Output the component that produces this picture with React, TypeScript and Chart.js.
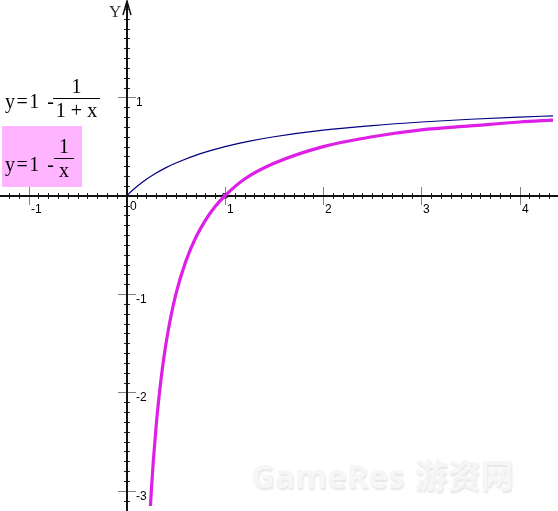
import { useEffect, useRef } from "react"
import { Chart, registerables, type Plugin } from "chart.js"

// Register Chart.js components
Chart.register(...registerables)

// y = 1 - 1/(1+x)
const navyX = [0, 0.05, 0.1, 0.2, 0.3, 0.4, 0.5, 0.75, 1, 1.25, 1.5, 2, 2.5, 3, 3.5, 4, 4.34]
const navyY = [0, 0.048, 0.091, 0.167, 0.231, 0.286, 0.333, 0.429, 0.5, 0.556, 0.6, 0.667, 0.714, 0.75, 0.778, 0.8, 0.813]

// y = 1 - 1/x
const magentaX = [0.24, 0.25, 0.27, 0.3, 0.33, 0.37, 0.42, 0.5, 0.6, 0.7, 0.8, 0.9, 1, 1.2, 1.5, 2, 2.5, 3, 3.5, 4, 4.34]
const magentaY = [-3.17, -3.0, -2.7, -2.33, -2.03, -1.7, -1.38, -1.0, -0.67, -0.43, -0.25, -0.11, 0, 0.17, 0.33, 0.5, 0.6, 0.67, 0.71, 0.75, 0.77]

// crossing point marked with a small square
const markX = [1]
const markY = [0]

// tick labels
const xTicks = [-1, 0, 1, 2, 3, 4]
const yTicks = [1, -1, -2, -3]

const X_MIN = -1.24
const X_MAX = 4.34
const Y_MIN = -3.155
const Y_MAX = 1.94

const crossAxes: Plugin<"scatter"> = {
  id: "crossAxes",
  beforeDatasetsDraw(chart) {
    const { ctx } = chart
    const xs = chart.scales.x
    const ys = chart.scales.y
    const x0 = Math.round(xs.getPixelForValue(0))
    const y0 = Math.round(ys.getPixelForValue(0))
    const line = (a: number, b: number, c: number, d: number) => {
      ctx.beginPath()
      ctx.moveTo(a, b)
      ctx.lineTo(c, d)
      ctx.stroke()
    }
    ctx.save()

    // minor ticks every 0.1
    ctx.strokeStyle = "#222"
    ctx.lineWidth = 1
    for (let i = Math.ceil(X_MIN * 10); i <= X_MAX * 10; i++) {
      if (i % 10 === 0) continue
      const px = Math.round(xs.getPixelForValue(i / 10)) + 0.5
      line(px, y0 - 3, px, y0 + 3)
    }
    for (let i = Math.ceil(Y_MIN * 10); i <= Y_MAX * 10; i++) {
      if (i % 10 === 0) continue
      const py = Math.round(ys.getPixelForValue(i / 10)) + 0.5
      line(x0 - 3, py, x0 + 3, py)
    }

    // major ticks
    ctx.strokeStyle = "#808080"
    xTicks.forEach((v) => {
      if (v === 0) return
      const px = Math.round(xs.getPixelForValue(v)) + 0.5
      line(px, y0 - 9, px, y0 + 9)
    })
    yTicks.forEach((v) => {
      const py = Math.round(ys.getPixelForValue(v)) + 0.5
      line(x0 - 9, py, x0 + 9, py)
    })

    // axes
    ctx.strokeStyle = "#111"
    ctx.lineWidth = 2
    line(0, y0, chart.width, y0)
    line(x0, 2, x0, chart.height)

    // arrow on the y axis
    ctx.lineWidth = 1.5
    ctx.beginPath()
    ctx.moveTo(x0 - 4, 15)
    ctx.lineTo(x0, 1)
    ctx.lineTo(x0 + 4, 15)
    ctx.stroke()

    // tick labels
    ctx.fillStyle = "#000"
    ctx.font = "12px 'Liberation Sans', Arial, sans-serif"
    ctx.textAlign = "left"
    ctx.textBaseline = "middle"
    xTicks.forEach((v) => {
      const px = Math.round(xs.getPixelForValue(v))
      if (v === 0) ctx.fillText("0", px + 3, y0 + 11)
      else ctx.fillText(String(v), px + 2, y0 + 14)
    })
    yTicks.forEach((v) => {
      const py = Math.round(ys.getPixelForValue(v))
      ctx.fillText(String(v), x0 + 9, py + 6)
    })
    ctx.restore()
  },
}

function Fraction({ left, top, width, num, den }: { left: number; top: number; width: number; num: string; den: string }) {
  return (
    <div style={{ position: "absolute", left, top, width, textAlign: "center", lineHeight: "20px", whiteSpace: "pre" }}>
      <div>{num}</div>
      <div style={{ borderTop: "1px solid #000", marginTop: 2, paddingTop: 1 }}>{den}</div>
    </div>
  )
}

export default function App() {
  const chartRef = useRef<HTMLCanvasElement>(null)
  const chartInstance = useRef<Chart | null>(null)

  useEffect(() => {
    if (!chartRef.current) return
    if (chartInstance.current) chartInstance.current.destroy()
    const ctx = chartRef.current.getContext("2d")
    if (!ctx) return

    chartInstance.current = new Chart(ctx, {
      type: "scatter",
      data: {
        datasets: [
          {
            label: "y=1-1/(1+x)",
            data: navyX.map((x, i) => ({ x, y: navyY[i] })),
            showLine: true,
            borderColor: "#000080",
            borderWidth: 1.2,
            pointRadius: 0,
            cubicInterpolationMode: "monotone",
          },
          {
            label: "y=1-1/x",
            data: magentaX.map((x, i) => ({ x, y: magentaY[i] })),
            showLine: true,
            borderColor: "#de1fe6",
            borderWidth: 3.2,
            pointRadius: 0,
            cubicInterpolationMode: "monotone",
          },
          {
            label: "mark",
            data: markX.map((x, i) => ({ x, y: markY[i] })),
            pointStyle: "rect",
            pointRadius: 3,
            backgroundColor: "rgba(0,0,0,0)",
            borderColor: "#000",
            borderWidth: 1,
          },
        ],
      },
      options: {
        animation: false,
        responsive: true,
        maintainAspectRatio: false,
        layout: { padding: 0 },
        plugins: {
          legend: { display: false },
          tooltip: { enabled: false },
        },
        scales: {
          x: { type: "linear", min: X_MIN, max: X_MAX, display: false },
          y: { type: "linear", min: Y_MIN, max: Y_MAX, display: false },
        },
      },
      plugins: [crossAxes],
    })

    return () => {
      if (chartInstance.current) {
        chartInstance.current.destroy()
        chartInstance.current = null
      }
    }
  }, [])

  const serif = "'Liberation Serif', 'Times New Roman', serif"

  return (
    <div style={{ position: "absolute", left: 0, top: 0, width: 558, height: 511, background: "#fff", overflow: "hidden" }}>
      {/* watermark */}
      <div
        style={{
          position: "absolute",
          left: 251,
          top: 450,
          fontSize: 33,
          fontWeight: 700,
          color: "#f6f6f6",
          textShadow: "1px 2px 2px #e6e6e6",
          fontFamily: "'Open Sans', 'Noto Sans CJK SC', sans-serif",
          whiteSpace: "nowrap",
        }}
      >
        GameRes<span style={{ fontFamily: "'Noto Sans CJK SC', sans-serif", marginLeft: 10 }}>游资网</span>
      </div>

      {/* pink label box */}
      <div style={{ position: "absolute", left: 2, top: 126, width: 80, height: 61, background: "#ffb4ff" }} />

      <div style={{ position: "absolute", inset: 0 }}>
        <canvas ref={chartRef} />
      </div>

      <div style={{ position: "absolute", left: 0, top: 0, fontFamily: serif, fontSize: 20, color: "#000" }}>
        <div style={{ position: "absolute", left: 5, top: 90, letterSpacing: 1.5, whiteSpace: "nowrap" }}>y=1 -</div>
        <Fraction left={53} top={76} width={47} num="1" den="1 + x" />
        <div style={{ position: "absolute", left: 5, top: 153, letterSpacing: 1.5, whiteSpace: "nowrap" }}>y=1 -</div>
        <Fraction left={54} top={136} width={20} num="1" den="x" />
        <div style={{ position: "absolute", left: 109, top: 2, fontSize: 17, color: "#333" }}>Y</div>
      </div>
    </div>
  )
}
